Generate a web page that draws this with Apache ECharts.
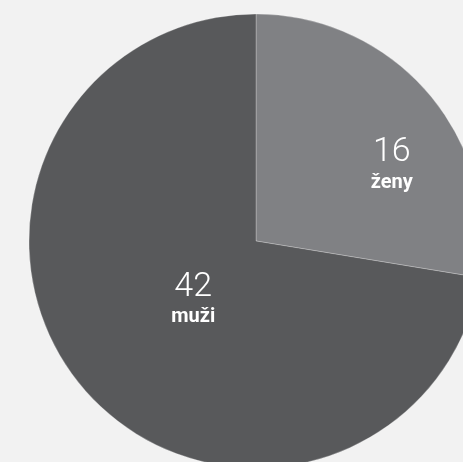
<!DOCTYPE html>
<html>
<head>
<meta charset="utf-8">
<script src="https://cdn.jsdelivr.net/npm/echarts@6/dist/echarts.min.js"></script>
<style>
html,body{margin:0;padding:0;background:#f2f2f2;}
#c{width:463px;height:462px;}
</style>
</head>
<body>
<div id="c"></div>
<script>
const categories = ['ženy', 'muži'];
const values = [16, 42];
const colors = ['#808184', '#58595b'];
const labelOffsets = [[47, -1], [26, -17]];

const chart = echarts.init(document.getElementById('c'), null, {renderer: 'canvas'});
chart.setOption({
  backgroundColor: '#f2f2f2',
  animation: false,
  series: [{
    type: 'pie',
    center: [256, 241],
    radius: 227,
    startAngle: 90,
    clockwise: true,
    silent: true,
    data: categories.map((n, i) => ({name: n, value: values[i], itemStyle: {color: colors[i]}})),
    itemStyle: {borderColor: 'rgba(255,255,255,0.25)', borderWidth: 1},
    label: {
      show: true,
      position: 'inside',
      formatter: '{v|{c}}\n{n|{b}}',
      rich: {
        v: {fontFamily: 'Roboto', fontWeight: 300, fontSize: 34, color: '#ffffff', lineHeight: 36, align: 'center'},
        n: {fontFamily: 'Roboto', fontWeight: 'bold', fontSize: 20, color: '#ffffff', lineHeight: 24, align: 'center'}
      }
    },
    labelLine: {show: false},
    labelLayout: function (p) {
      const o = labelOffsets[p.dataIndex];
      return {dx: o[0], dy: o[1]};
    }
  }]
});
</script>
</body>
</html>
